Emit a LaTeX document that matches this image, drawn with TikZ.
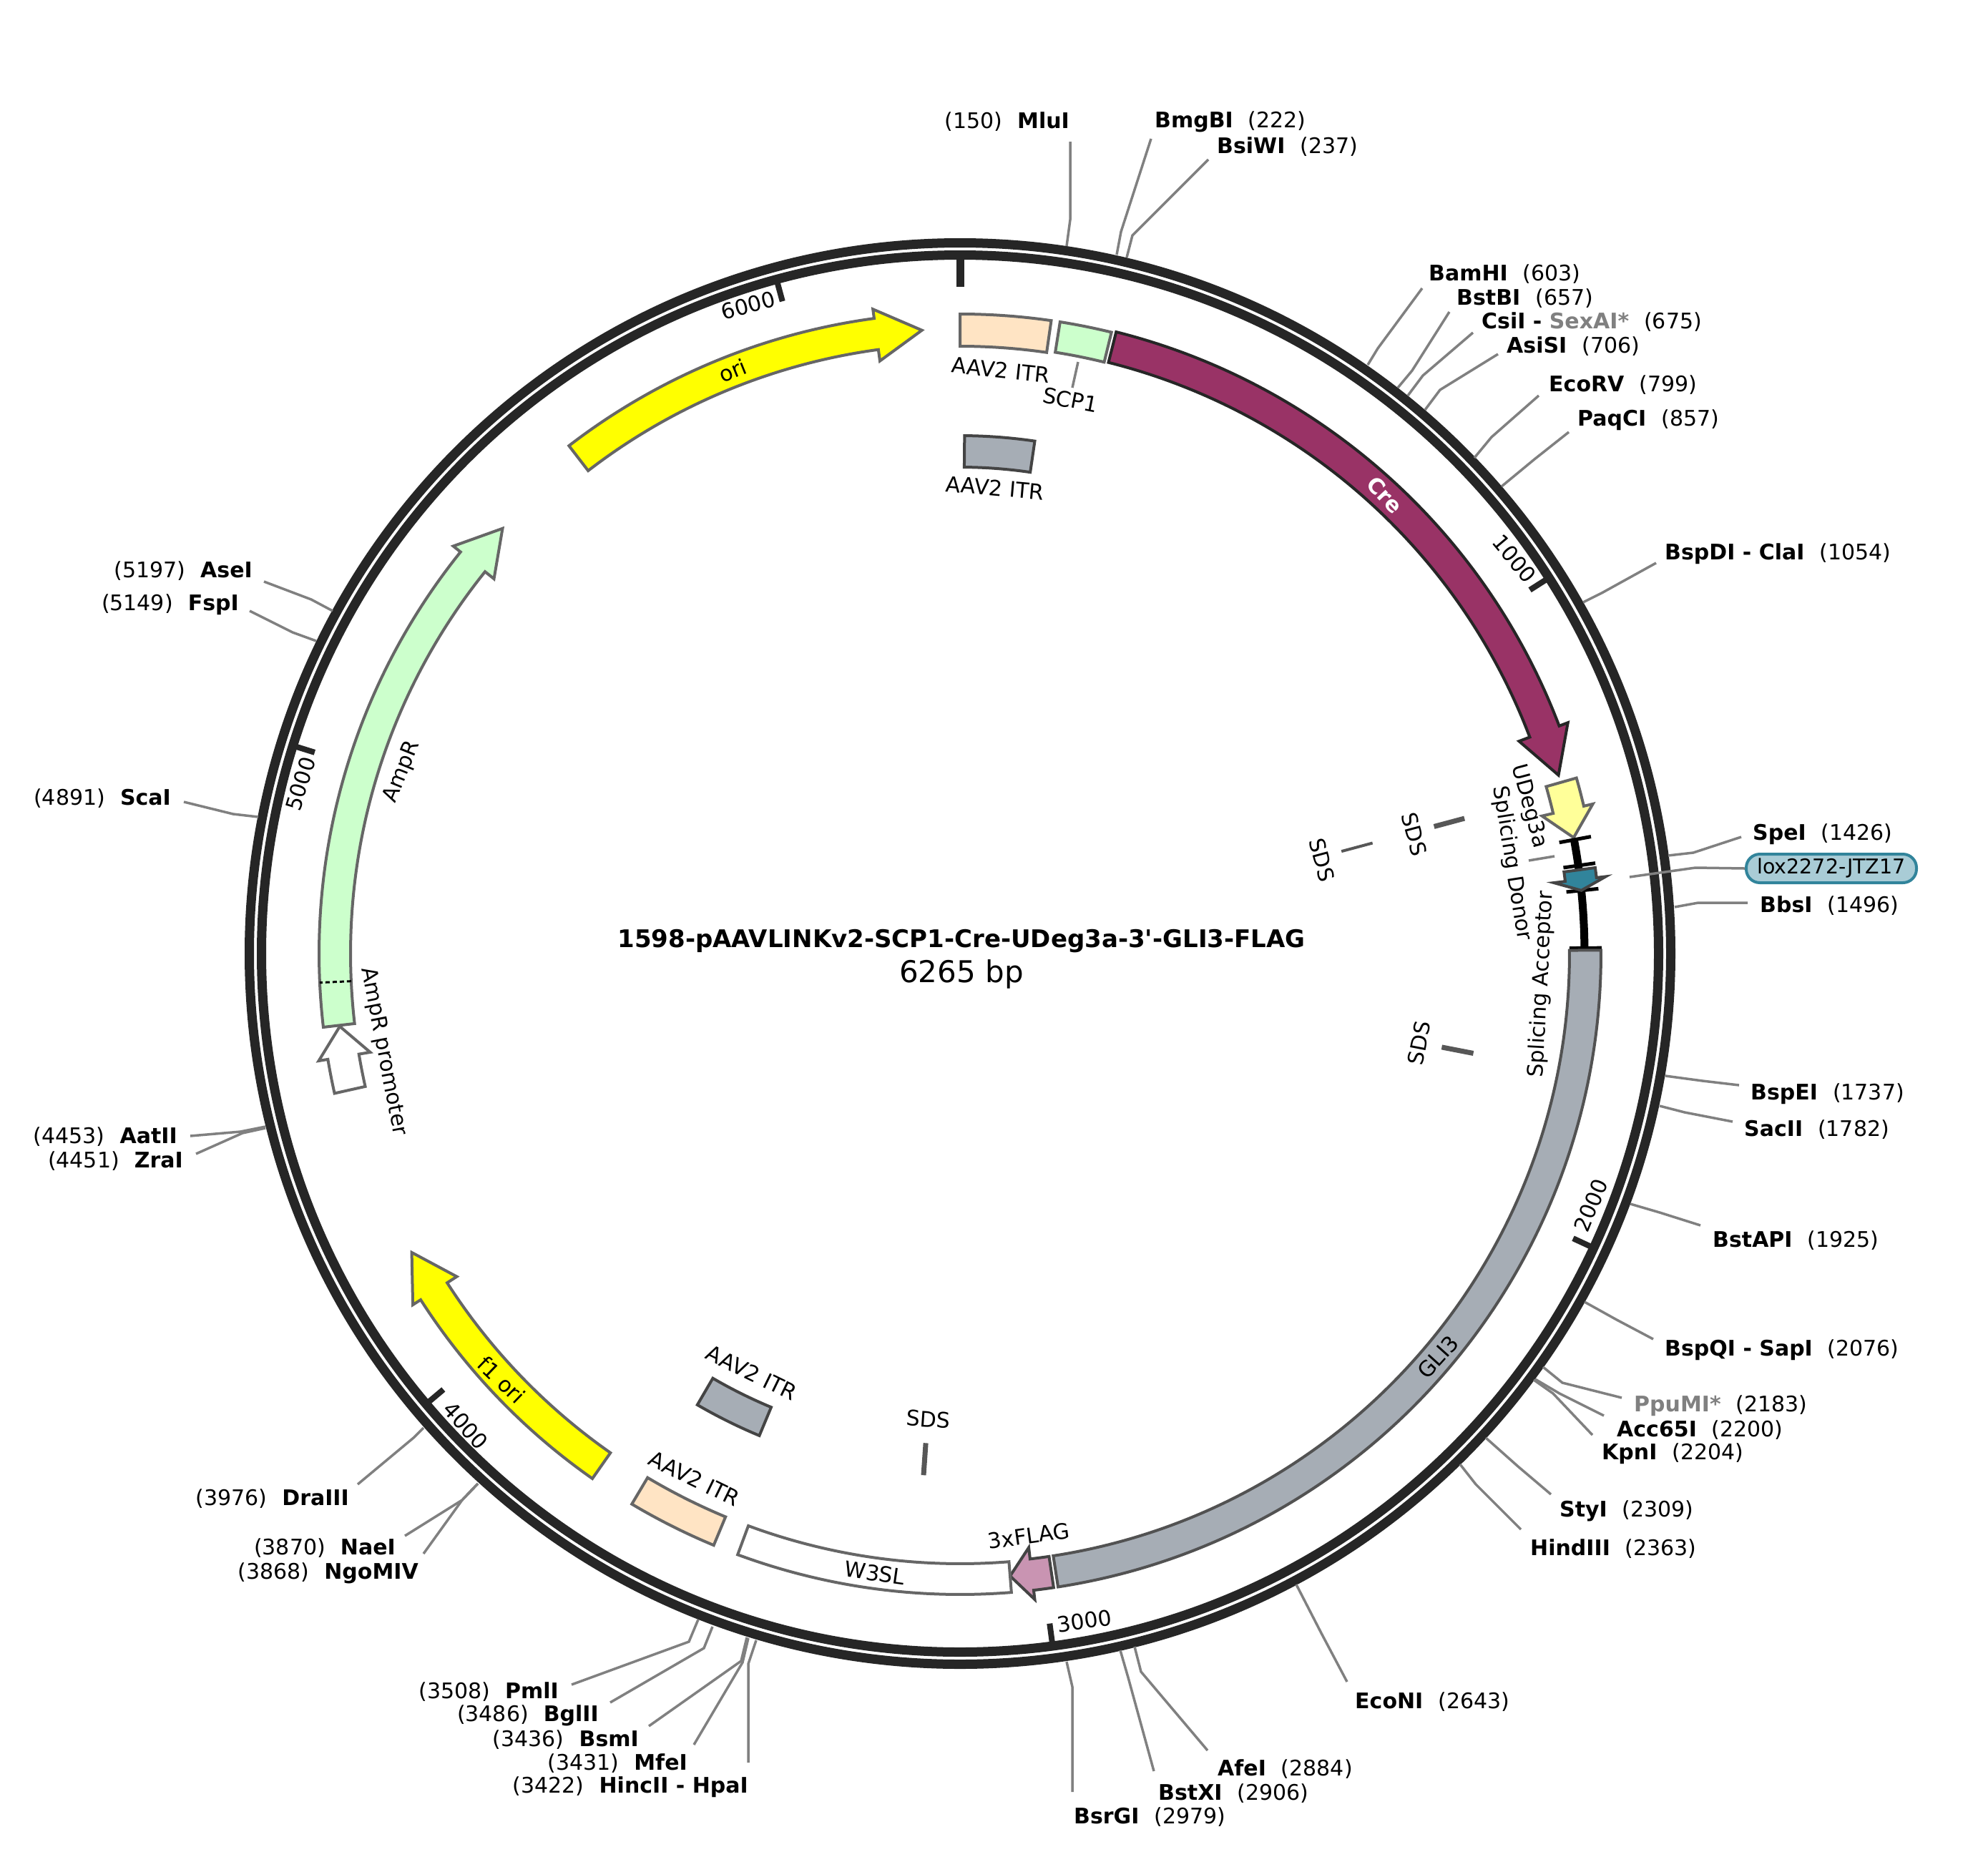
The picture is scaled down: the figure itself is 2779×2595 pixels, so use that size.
\documentclass[tikz,border=0pt]{standalone}
\usepackage{fontspec}
\setmainfont{DejaVu Sans}
\definecolor{ringcol}{HTML}{262626}
\definecolor{linecol}{HTML}{808080}
\definecolor{edgecol}{HTML}{666666}
\definecolor{darkedge}{HTML}{444444}
\definecolor{crecol}{HTML}{993366}
\definecolor{itrcol}{HTML}{FFE4C4}
\definecolor{greencol}{HTML}{CCFFCC}
\definecolor{graycol}{HTML}{A6ADB5}
\definecolor{oricol}{RGB}{255,255,0}
\definecolor{paleyellow}{HTML}{FFFF99}
\definecolor{bluecol}{HTML}{31849B}
\definecolor{pinkcol}{HTML}{C994B2}
\definecolor{loxcol}{HTML}{A9CCD6}
% box on the track: style, from angle, to angle, inner and outer radius
\newcommand{\trackbox}[5]{\draw[#1] ({90-#2}:#5) arc[start angle={90-#2},end angle={90-#3},radius=#5pt] -- ({90-#3}:#4) arc[start angle={90-#3},end angle={90-#2},radius=#4pt] -- cycle;}
% arrow on the track: style, tail angle, head base angle, tip angle
\newcommand{\trackarrow}[4]{\draw[#1] ({90-#2}:896) arc[start angle={90-#2},end angle={90-#3},radius=896pt] -- ({90-#3}:909) -- ({90-#4}:873) -- ({90-#3}:836) -- ({90-#3}:852) arc[start angle={90-#3},end angle={90-#2},radius=852pt] -- cycle;}
\begin{document}
\begin{tikzpicture}[x=1pt,y=-1pt,
    every node/.style={inner sep=0pt,font=\fontsize{30}{36}\selectfont},
    site/.style={draw=linecol,line width=3.5pt},
    feat/.style={draw=edgecol,line width=4pt,line join=miter},
    featdark/.style={draw=darkedge,line width=4pt,line join=miter},
    tick/.style={draw=ringcol,line width=8pt},
    bar/.style={draw=black,line width=5pt},
    sds/.style={draw=darkedge!90,line width=7pt}]
    \useasboundingbox (0,0) rectangle (2779,2595);
    \coordinate (c) at (1342,1333);

    \draw[draw=ringcol,line width=13pt] (c) circle[radius=993.5pt];
    \draw[draw=ringcol,line width=13pt] (c) circle[radius=976.5pt];

    \begin{scope}[shift={(1342,1333)},y=1pt]
        % ticks
        \draw[tick,line width=11pt] (90:971) -- (90:932);
        \foreach \a in {57.46,114.92,172.38,229.84,287.31,344.77}
            \draw[tick] ({90-\a}:971) -- ({90-\a}:945);

        % features
        \trackbox{feat,fill=itrcol}{0}{8.2}{849}{894}
        \trackbox{feat,fill=greencol}{9}{13.7}{851}{894}
        \trackarrow{draw=ringcol,line width=4pt,fill=crecol}{14.1}{69.2}{73.4}
        \trackarrow{feat,fill=paleyellow}{74.1}{76.7}{79.3}
        \draw[draw=black,line width=11pt] (10.5:873) arc[start angle=10.5,end angle=0.5,radius=873pt];
        \foreach \a in {79.5,81.9,84.2,89.5}
            \draw[bar] ({90-\a}:852) -- ({90-\a}:897);
        \trackarrow{featdark,fill=bluecol}{82.3}{83.2}{84.2}
        \trackbox{draw=edgecol!80!black,line width=4pt,fill=graycol}{89.7}{171.2}{852}{896}
        \trackarrow{featdark,fill=pinkcol}{171.6}{173.4}{175.4}
        \trackbox{feat,fill=white}{175.4}{200.3}{853}{896}
        \trackbox{feat,fill=itrcol}{202.6}{210.8}{853}{896}
        \trackarrow{feat,fill=oricol}{215}{237.3}{241.4}
        \trackarrow{feat,fill=white}{257.4}{260.5}{263.3}
        \trackarrow{feat,fill=greencol}{263.4}{308.8}{312.9}
        \draw[draw=black,line width=3pt,dash pattern=on 6pt off 4pt] ({90-267.4}:852) -- ({90-267.4}:896);
        \trackarrow{feat,fill=oricol}{322.4}{352.3}{356.5}
        \trackbox{featdark,fill=graycol}{0.5}{8.3}{680}{724}
        \trackbox{featdark,fill=graycol}{202.6}{210.2}{687}{730}

        % SDS marks
        \draw[sds] ({90-75}:686) -- ({90-75}:730);
        \draw[sds,line width=4pt] ({90-75}:552) -- ({90-75}:597);
        \draw[sds] ({90-101}:686) -- ({90-101}:731);
        \draw[sds] ({90-184}:686) -- ({90-184}:731);
    \end{scope}

    % restriction sites to the right of the map
    \foreach \nm/\lab/\num/\tx/\ty/\sx/\sy/\ex/\ey/\rx/\ry in {
        bmgbi/BmgBI/222/1614/170/1609/194/1567/324/1561/356,
        bsiwi/BsiWI/237/1701/205/1689/223/1583/329/1575/360,
        bamhi/BamHI/603/1997/383/1988/403/1926/487/1912/510,
        bstbi/BstBI/657/2036/417/2026/436/1974/518/1954/542,
        csii/{CsiI - {\color{linecol}SexAI*}}/675/2071/450/2059/465/1989/525/1968/553,
        asisi/AsiSI/706/2106/484/2094/495/2013/545/1992/573,
        ecorv/EcoRV/799/2165/538/2151/553/2085/611/2061/640,
        paqci/PaqCI/857/2205/587/2193/604/2145/642/2099/680,
        bspdi/BspDI - ClaI/1054/2327/774/2315/787/2239/829/2213/842,
        spei/SpeI/1426/2450/1166/2434/1170/2367/1192/2332/1196,
        bbsi/BbsI/1496/2460/1266/2443/1262/2374/1262/2341/1268,
        bspei/BspEI/1737/2447/1529/2431/1517/2380/1511/2328/1504,
        sacii/SacII/1782/2438/1579/2422/1568/2355/1555/2320/1546,
        bstapi/BstAPI/1925/2394/1734/2377/1713/2320/1695/2279/1683,
        bspqi/BspQI - SapI/2076/2327/1887/2311/1872/2260/1845/2215/1820,
        ppumi/{\color{linecol}PpuMI*}/2183/2284/1965/2267/1954/2184/1933/2157/1911,
        acc/Acc65I/2200/2260/1999/2242/1979/2180/1948/2146/1928,
        kpni/KpnI/2204/2239/2032/2226/2006/2171/1948/2144/1929,
        styi/StyI/2309/2180/2112/2168/2089/2122/2050/2077/2010,
        hind/HindIII/2363/2139/2165/2126/2138/2063/2075/2041/2047,
        econi/EcoNI/2643/1894/2379/1883/2351/1847/2283/1812/2215,
        afei/AfeI/2884/1702/2473/1688/2447/1595/2337/1586/2302,
        bstxi/BstXI/2906/1619/2507/1613/2476/1577/2345/1566/2307,
        bsrgi/BsrGI/2979/1501/2540/1499/2505/1499/2358/1491/2323}{
        \node (\nm) [anchor=west] at (\tx,\ty) {\textbf{\lab}\hspace{0.7em}(\num)};
        \coordinate (\nm-s) at (\sx,\sy);
        \coordinate (\nm-e) at (\ex,\ey);
        \coordinate (\nm-r) at (\rx,\ry);
        \draw[site] (\nm-s) -- (\nm-e) -- (\nm-r);
    }

    % and to the left
    \foreach \nm/\lab/\num/\tx/\ty/\sx/\sy/\ex/\ey/\rx/\ry in {
        mlui/MluI/150/1495/170/1496/198/1496/307/1491/344,
        asei/AseI/5197/353/798/369/813/435/838/465/854,
        fspi/FspI/5149/334/845/349/854/409/884/442/896,
        scai/ScaI/4891/239/1116/257/1121/326/1138/361/1142,
        aatii/AatII/4453/248/1589/266/1588/336/1582/371/1575,
        zrai/ZraI/4451/256/1623/274/1613/339/1584/371/1577,
        draiii/DraIII/3976/488/2095/500/2075/578/2010/592/1996,
        naei/NaeI/3870/553/2164/566/2147/646/2097/668/2074,
        ngomiv/NgoMIV/3868/585/2199/592/2172/646/2097/668/2074,
        pmli/PmlI/3508/781/2365/799/2355/963/2295/976/2264,
        bglii/BglII/3486/837/2398/853/2380/984/2304/996/2274,
        bsmi/BsmI/3436/893/2432/907/2413/1036/2322/1044/2289,
        mfei/MfeI/3431/961/2465/970/2439/1038/2324/1046/2290,
        hincii/HincII - HpaI/3422/1046/2498/1046/2464/1046/2326/1057/2293}{
        \node (\nm) [anchor=east] at (\tx,\ty) {(\num)\hspace{0.7em}\textbf{\lab}};
        \coordinate (\nm-s) at (\sx,\sy);
        \coordinate (\nm-e) at (\ex,\ey);
        \coordinate (\nm-r) at (\rx,\ry);
        \draw[site] (\nm-s) -- (\nm-e) -- (\nm-r);
    }

    % lox label
    \node (lox) [draw=bluecol,fill=loxcol,line width=4pt,rounded corners=19pt,minimum width=238pt,minimum height=40pt,font=\fontsize{28.5}{34}\selectfont] at (2560,1214) {lox2272-JTZ17};
    \coordinate (lox-e) at (2370,1213);
    \coordinate (lox-r) at (2278,1226);
    \draw[site] (lox.west) -- (lox-e) -- (lox-r);

    % leaders
    \coordinate (scp-a) at (1507,506);
    \coordinate (scp-b) at (1499,542);
    \draw[site] (scp-a) -- (scp-b);
    \coordinate (don-a) at (2137,1203);
    \coordinate (don-b) at (2173,1197);
    \draw[site] (don-a) -- (don-b);

    % title
    \node (title) [font=\fontsize{34}{40}\selectfont] at (1344,1316) {\textbf{1598-pAAVLINKv2-SCP1-Cre-UDeg3a-3\textquotesingle-GLI3-FLAG}};
    \node (size) [font=\fontsize{42}{48}\selectfont] at (1344,1362) {6265 bp};

    % scale numbers
    \node (n1000) [rotate=-50] at (2117,781) {1000};
    \node (n2000) [rotate=68] at (2224,1685) {2000};
    \node (n3000) [rotate=8] at (1516,2266) {3000};
    \node (n4000) [rotate=-48] at (651,1993) {4000};
    \node (n5000) [rotate=73] at (420,1096) {5000};
    \node (n6000) [rotate=15] at (1046,427) {6000};

    % feature names
    \node (itr1) [rotate=-6] at (1399,517) {AAV2 ITR};
    \node (scp) [rotate=-11] at (1496,559) {SCP1};
    \node (itr2) [rotate=-5] at (1391,682) {AAV2 ITR};
    \node (cre) [rotate=-47,text=white] at (1936,692) {\textbf{Cre}};
    \node (udeg) [rotate=-75] at (2137,1127) {UDeg3a};
    \node (donor) [rotate=-81] at (2113,1207) {Splicing Donor};
    \node (accept) [rotate=87] at (2155,1376) {Splicing Acceptor};
    \node (gli) [rotate=48] at (2010,1897) {GLI3};
    \node (flag) [rotate=8] at (1438,2147) {3xFLAG};
    \node (w3sl) [rotate=-8] at (1223,2199) {W3SL};
    \node (itr3) [rotate=-26] at (971,2067) {AAV2 ITR};
    \node (itr4) [rotate=-26] at (1051,1919) {AAV2 ITR};
    \node (f1) [rotate=-44] at (701,1929) {f1 ori};
    \node (promo) [rotate=-79] at (536,1470) {AmpR promoter};
    \node (amp) [rotate=68] at (562,1079) {AmpR};
    \node (ori) [rotate=22] at (1024,518) {ori};

    \node (sds1) [rotate=-75] at (1977,1166) {SDS};
    \node (sds2) [rotate=-75] at (1848,1202) {SDS};
    \node (sds3) [rotate=79] at (1984,1458) {SDS};
    \node (sds4) [rotate=-4] at (1298,1984) {SDS};
\end{tikzpicture}
\end{document}
